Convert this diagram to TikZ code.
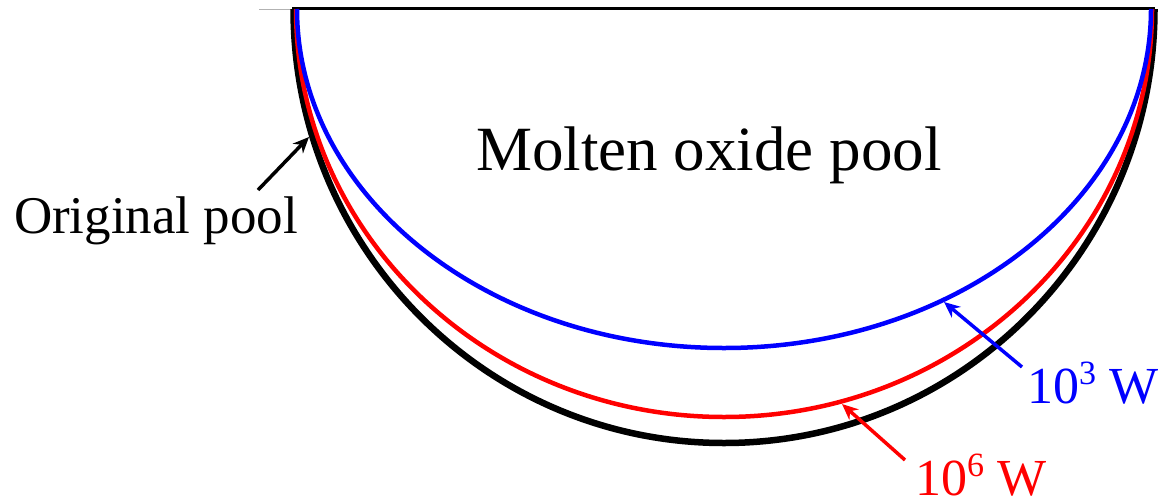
\documentclass[tikz,border=0pt]{standalone}
\usepackage{fontspec}
\setmainfont{Liberation Serif}
\usetikzlibrary{arrows.meta}
\definecolor{myblue}{RGB}{0,0,255}
\definecolor{myred}{RGB}{255,0,0}
\newcommand{\mysup}[1]{\raisebox{0.36em}{\fontsize{34}{40}\selectfont #1}}
\tikzset{
  lbl/.style={anchor=base west, inner sep=0pt, outer sep=0pt},
  ptr/.style={line width=3.5pt, -{Stealth[length=16pt,width=14pt]}},
}
\begin{document}
\begin{tikzpicture}[x=1pt,y=1pt]
\useasboundingbox (0,0) rectangle (1161,-499);
% top lines
\draw[gray!60, line width=1pt] (259,-9) -- (293,-9);
\draw[line width=3.5pt] (292,-8.5) -- (1155,-8.5);
% curves
\draw[line width=6.5pt] (293.5,-9) arc[start angle=180, end angle=360, x radius=430.5pt, y radius=434pt];
\draw[myred, line width=4.5pt] (296,-9) arc[start angle=180, end angle=360, x radius=428pt, y radius=408pt];
\draw[myblue, line width=4.5pt] (297,-9) arc[start angle=180, end angle=360, x radius=427pt, y radius=339pt];
% labels
\node[lbl, font=\fontsize{63}{70}\selectfont] (title) at (476,-170) {Molten oxide pool};
\node[lbl, font=\fontsize{53}{60}\selectfont] (orig) at (14,-233) {Original pool};
\node[lbl, myblue, font=\fontsize{52}{60}\selectfont] (blue) at (1027,-403) {10\mysup{3} W};
\node[lbl, myred, font=\fontsize{52}{60}\selectfont] (red) at (915,-495) {10\mysup{6} W};
% arrows
\coordinate (o1) at (258,-190);
\coordinate (o2) at (309,-137);
\coordinate (b1) at (1022,-367);
\coordinate (b2) at (944,-302);
\coordinate (r1) at (905,-460);
\coordinate (r2) at (842,-404);
\draw[ptr] (o1) -- (o2);
\draw[ptr, myblue] (b1) -- (b2);
\draw[ptr, myred] (r1) -- (r2);
\end{tikzpicture}
\end{document}
